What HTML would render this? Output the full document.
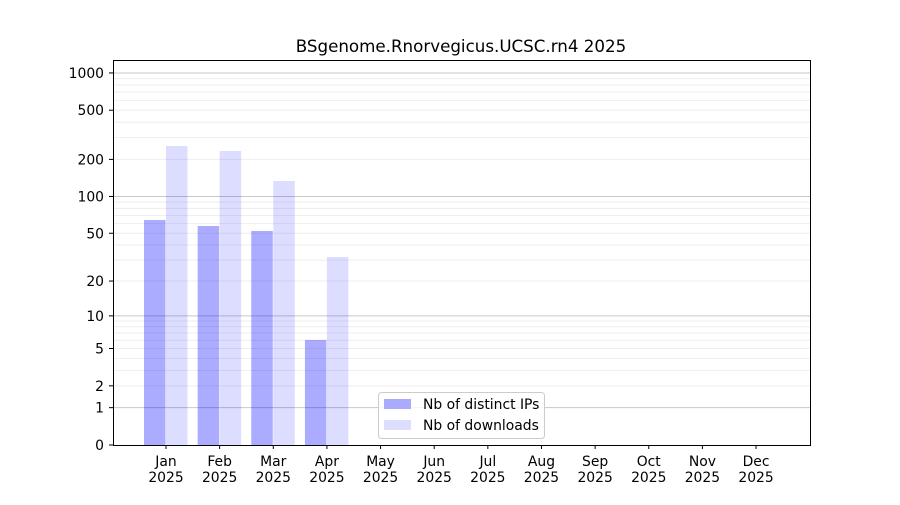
<!DOCTYPE html>
<html><head><meta charset="utf-8"><style>
body{margin:0;background:#fff}
svg text{font-family:"DejaVu Sans","Liberation Sans",sans-serif;font-size:13.9px;fill:#000}
</style></head><body>
<svg id="s" width="900" height="500" xmlns="http://www.w3.org/2000/svg">
<rect width="900" height="500" fill="#fff"/>
<g id="grid"></g>
<g id="bars"></g>
<rect x="113.5" y="60.5" width="697" height="385" fill="none" stroke="#000" stroke-width="1"/>
<g id="ticks"></g>
<text x="461" y="52" text-anchor="middle" style="font-size:16.7px">BSgenome.Rnorvegicus.UCSC.rn4 2025</text>
<rect x="378.5" y="392.5" width="166" height="46" rx="3" fill="#fff" fill-opacity="0.8" stroke="#ccc"/>
<rect x="384" y="399" width="27" height="10" fill="#aaaaff"/>
<text x="423" y="409">Nb of distinct IPs</text>
<rect x="384" y="420" width="27" height="10" fill="#ddddff"/>
<text x="423" y="430">Nb of downloads</text>
</svg>
<script>
const NS="http://www.w3.org/2000/svg";
function el(p,t,a,txt){const e=document.createElementNS(NS,t);for(const k in a)e.setAttribute(k,a[k]);if(txt!==undefined)e.textContent=txt;document.getElementById(p).appendChild(e);return e;}
const Y=v=>445-124*Math.log10(1+v);
for(const d of [1,10,100]){for(let m=1;m<=9;m++){const v=d*m;const y=Y(v);
 const major=(m==1);el('grid','line',{x1:114,x2:810,y1:y,y2:y,stroke:major?'#c8c8c8':'#eeeeee','stroke-width':1});}}
el('grid','line',{x1:114,x2:810,y1:Y(1000),y2:Y(1000),stroke:'#c8c8c8'});
const labs=[1000,500,200,100,50,20,10,5,2,1,0];
for(const v of labs){const y=Y(v);el('ticks','line',{x1:109,x2:113,y1:y,y2:y,stroke:'#000'});el('ticks','text',{x:104,y:y+5,'text-anchor':'end'},String(v));}
const mons=['Jan','Feb','Mar','Apr','May','Jun','Jul','Aug','Sep','Oct','Nov','Dec'];
const tops=[[220,146],[226,151],[231,181],[340,257]];
mons.forEach((m,i)=>{const cx=166+i*53.64;
 el('ticks','line',{x1:cx,x2:cx,y1:445,y2:449,stroke:'#000'});
 el('ticks','text',{x:cx,y:466,'text-anchor':'middle'},m);
 el('ticks','text',{x:cx,y:482,'text-anchor':'middle'},'2025');
 if(tops[i]){el('bars','rect',{x:cx-22,y:tops[i][0],width:21.5,height:445-tops[i][0],fill:'#0000ff','fill-opacity':0.33});
 el('bars','rect',{x:cx,y:tops[i][1],width:21.5,height:445-tops[i][1],fill:'#0000ff','fill-opacity':0.135});}
});
</script>
</body></html>
